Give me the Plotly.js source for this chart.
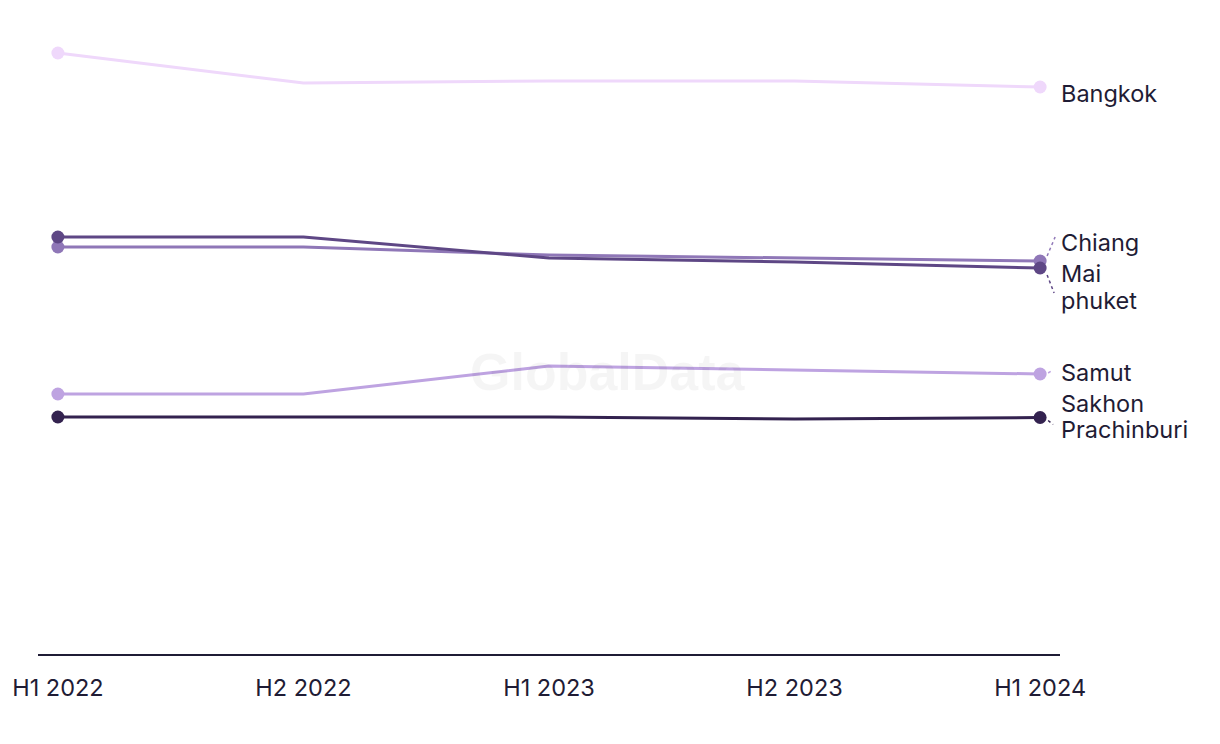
<!DOCTYPE html>
<html>
<head>
<meta charset="utf-8">
<script src="https://cdn.plot.ly/plotly-3.0.1.min.js"></script>
<style>
html,body{margin:0;padding:0;background:#fff;}
#chart{width:1220px;height:744px;}
</style>
</head>
<body>
<div id="chart"></div>
<script>
// Data (unlabeled y scale)
const periods = ["H1 2022", "H2 2022", "H1 2023", "H2 2023", "H1 2024"];
const bangkok = [60.1, 57.1, 57.3, 57.3, 56.7];
const chiangMai = [40.7, 40.7, 39.9, 39.6, 39.3];
const phuket = [41.7, 41.7, 39.6, 39.2, 38.6];
const samutSakhon = [26.0, 26.0, 28.8, 28.4, 28.0];
const prachinburi = [23.7, 23.7, 23.7, 23.5, 23.65];

const seriesNames = ["Bangkok", "Chiang<br>Mai", "phuket", "Samut<br>Sakhon", "Prachinburi"];
const seriesValues = [bangkok, chiangMai, phuket, samutSakhon, prachinburi];
const seriesColors = ["#efd8fb", "#8f77b7", "#5e4785", "#bea3e1", "#33224f"];
// label offsets (px) relative to last point, and leader lines
const labelShift = [-6, 3, -32, -14, -12];
const leaders = [null, [7, 5, 15, 24], [7, -7, 14, -25], [8, 1, 13, 4], [8, -3, 13, -7]];

const textColor = "#1f1c35";
const font = "Inter, 'Noto Sans', sans-serif";

const traces = [];
const order = [0, 3, 4, 1, 2];
order.forEach(i => {
  const n = seriesValues[i].length;
  const sizes = seriesValues[i].map((v, k) => (k === 0 || k === n - 1) ? 13 : 0);
  traces.push({
    type: "scatter",
    mode: "lines+markers",
    name: seriesNames[i],
    x: periods,
    y: seriesValues[i],
    line: {color: seriesColors[i], width: 3},
    marker: {color: seriesColors[i], size: sizes, opacity: 1, line: {width: 0}},
    hoverinfo: "x+y+name",
    showlegend: false
  });
});

const annotations = [];
const shapes = [];
seriesNames.forEach((n, i) => {
  const last = seriesValues[i][seriesValues[i].length - 1];
  annotations.push({
    x: periods.length - 1, y: last, xref: "x", yref: "y",
    text: n, showarrow: false, xanchor: "left", yanchor: "middle",
    xshift: 19, yshift: labelShift[i], align: "left",
    font: {family: font, size: 23.5, color: textColor}
  });
  if (leaders[i]) {
    const l = leaders[i];
    shapes.push({
      type: "line", xref: "x", yref: "y",
      xsizemode: "pixel", ysizemode: "pixel",
      xanchor: periods.length - 1, yanchor: last,
      x0: l[0], y0: l[1], x1: l[2], y1: l[3],
      line: {color: seriesColors[i], width: 1.5, dash: "dot"}
    });
  }
});

annotations.push({
  xref: "paper", yref: "paper", x: 0.558, y: 0.455,
  text: "<b>GlobalData</b>", showarrow: false,
  font: {family: "'Liberation Sans', Arial, sans-serif", size: 52, color: "rgba(0,0,0,0.04)"}
});

const layout = {
  width: 1220, height: 744,
  margin: {l: 38, r: 160, t: 34, b: 90},
  paper_bgcolor: "#ffffff", plot_bgcolor: "#ffffff",
  xaxis: {
    type: "category",
    range: [-0.081, 4.081],
    showgrid: false, zeroline: false,
    showline: true, linecolor: textColor, linewidth: 2,
    ticks: "", ticklabelstandoff: 12,
    tickfont: {family: font, size: 23.5, color: textColor}
  },
  yaxis: {
    range: [0, 62],
    showgrid: false, zeroline: false, showline: false,
    showticklabels: false, ticks: ""
  },
  annotations: annotations,
  shapes: shapes,
  showlegend: false
};

Plotly.newPlot("chart", traces, layout, {displayModeBar: false, responsive: false});
</script>
</body>
</html>
